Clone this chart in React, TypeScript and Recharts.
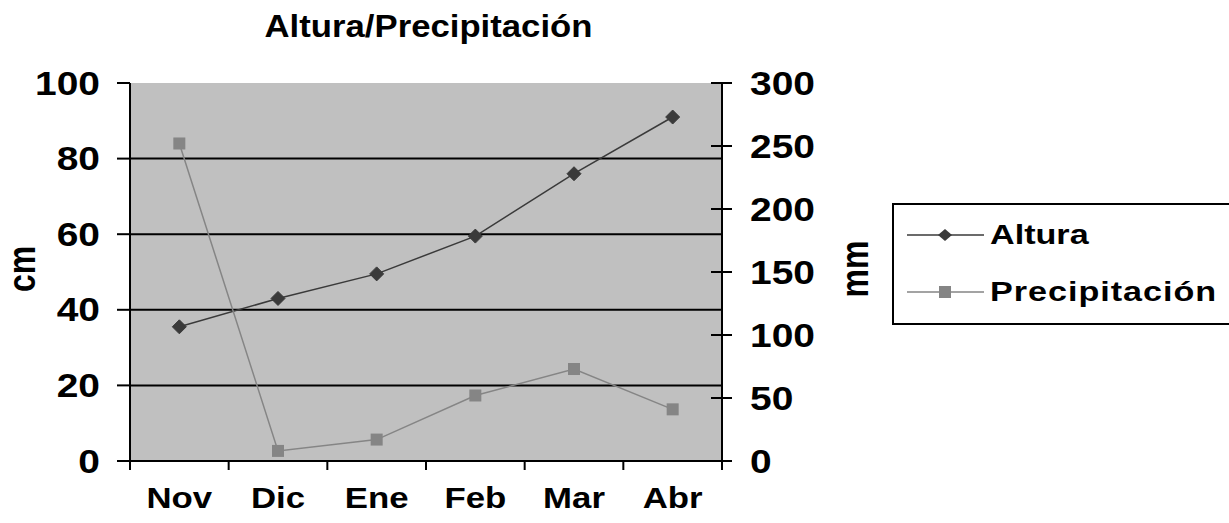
import React from 'react';
import { LineChart, Line, XAxis, YAxis, ReferenceArea, ReferenceLine, Legend } from 'recharts';

const categories = ['Nov', 'Dic', 'Ene', 'Feb', 'Mar', 'Abr'];
const altura = [35.5, 43, 49.5, 59.5, 76, 91];
const precipitacion = [252, 8, 17, 52, 73, 41];
const leftTicks = [0, 20, 40, 60, 80, 100];
const rightTicks = [0, 50, 100, 150, 200, 250, 300];
const gridValues = [20, 40, 60, 80];
const seriesNames = ['Altura', 'Precipitación'];
const seriesColors = ['#3a3a3a', '#858585'];

const data = categories.map((c, i) => ({ cat: c, altura: altura[i], precipitacion: precipitacion[i] }));

const FONT = '"Liberation Sans", Arial, sans-serif';

const LeftTick = (props: any) => {
  const { x, y, payload } = props;
  return (
    <g>
      <line x1={x - 13} x2={x} y1={y} y2={y} stroke="#000" strokeWidth={2} />
      <text transform={`translate(${x - 30},${y}) scale(1.18,1)`} textAnchor="end" dy="0.35em"
        fontFamily={FONT} fontWeight="bold" fontSize={33} fill="#000">{payload.value}</text>
    </g>
  );
};

const RightTick = (props: any) => {
  const { x, y, payload } = props;
  return (
    <g>
      <line x1={x - 11} x2={x + 10} y1={y} y2={y} stroke="#000" strokeWidth={2} />
      <text transform={`translate(${x + 28},${y}) scale(1.18,1)`} textAnchor="start" dy="0.35em"
        fontFamily={FONT} fontWeight="bold" fontSize={33} fill="#000">{payload.value}</text>
    </g>
  );
};

const BottomTick = (props: any) => {
  const { x, y, payload, index, visibleTicksCount } = props;
  const half = payload.offset || 0;
  const last = index === (visibleTicksCount ?? categories.length) - 1;
  return (
    <g>
      <line x1={x - half} x2={x - half} y1={y} y2={y + 9} stroke="#000" strokeWidth={2} />
      {last && <line x1={x + half} x2={x + half} y1={y} y2={y + 9} stroke="#000" strokeWidth={2} />}
      <text transform={`translate(${x},${y + 47}) scale(1.16,1)`} textAnchor="middle"
        fontFamily={FONT} fontWeight="bold" fontSize={30} fill="#000">{payload.value}</text>
    </g>
  );
};

const Diamond = (props: any) => {
  const { cx, cy, index } = props;
  if (cx == null || cy == null) return <g key={index} />;
  return <path key={index} d={`M${cx},${cy - 7}L${cx + 7},${cy}L${cx},${cy + 7}L${cx - 7},${cy}Z`} fill={seriesColors[0]} stroke={seriesColors[0]} />;
};

const Square = (props: any) => {
  const { cx, cy, index } = props;
  if (cx == null || cy == null) return <g key={index} />;
  return <rect key={index} x={cx - 6} y={cy - 6} width={12} height={12} fill={seriesColors[1]} />;
};

const LegendContent = () => (
  <div style={{ width: 360, height: 122, border: '2px solid #000', background: '#fff', boxSizing: 'border-box' }}>
    <svg width={356} height={118}>
      {seriesNames.map((name, i) => {
        const cy = 30 + i * 57;
        const mx = 51;
        return (
          <g key={name}>
            <line x1={13} x2={90} y1={cy} y2={cy} stroke={seriesColors[i]} strokeWidth={1.5} />
            {i === 0 ? (
              <path d={`M${mx},${cy - 6}L${mx + 7},${cy}L${mx},${cy + 6}L${mx - 7},${cy}Z`} fill={seriesColors[0]} />
            ) : (
              <rect x={mx - 6} y={cy - 6} width={12} height={12} fill={seriesColors[1]} />
            )}
            <text transform={`translate(96,${cy}) scale(1.22,1)`} dy="0.33em" fontFamily={FONT}
              fontWeight="bold" fontSize={28} letterSpacing={i === 1 ? 0.8 : 0} fill="#000">{name}</text>
          </g>
        );
      })}
    </svg>
  </div>
);

export default function App() {
  return (
    <div style={{ position: 'fixed', left: 0, top: 0, width: 1229, height: 523, overflow: 'hidden', background: '#fff' }}>
      <LineChart width={1229} height={523} data={data} margin={{ top: 83, right: 387, bottom: 12, left: 30 }}>
        <XAxis dataKey="cat" scale="band" height={50} interval={0} tickLine={false} tickSize={0} tickMargin={0}
          axisLine={{ stroke: '#000', strokeWidth: 2 }} tick={<BottomTick />} />
        <YAxis yAxisId="left" orientation="left" width={100} domain={[0, 100]} ticks={leftTicks} interval={0}
          tickLine={false} tickSize={0} tickMargin={0} axisLine={{ stroke: '#000', strokeWidth: 2 }} tick={<LeftTick />} />
        <YAxis yAxisId="right" orientation="right" width={120} domain={[0, 300]} ticks={rightTicks} interval={0}
          tickLine={false} tickSize={0} tickMargin={0} axisLine={{ stroke: '#000', strokeWidth: 2 }} tick={<RightTick />} />
        <ReferenceArea yAxisId="left" y1={0} y2={100} fill="#c0c0c0" fillOpacity={1} stroke="none" ifOverflow="visible" />
        {gridValues.map((v) => (
          <ReferenceLine key={v} yAxisId="left" y={v} stroke="#000" strokeWidth={2} />
        ))}
        <Legend layout="horizontal" verticalAlign="middle" align="center" content={<LegendContent />}
          wrapperStyle={{ position: 'absolute', left: 892, top: 203, width: 360, height: 122 }} />
        <Line yAxisId="left" type="linear" dataKey="altura" name={seriesNames[0]} stroke={seriesColors[0]} strokeWidth={1.5}
          dot={<Diamond />} activeDot={false} isAnimationActive={false} />
        <Line yAxisId="right" type="linear" dataKey="precipitacion" name={seriesNames[1]} stroke={seriesColors[1]} strokeWidth={1.5}
          dot={<Square />} activeDot={false} isAnimationActive={false} />
      </LineChart>
      <svg width={1229} height={523} style={{ position: 'absolute', left: 0, top: 0, pointerEvents: 'none' }}>
        <text transform="translate(428.5,37) scale(1.12,1)" textAnchor="middle" fontFamily={FONT} fontWeight="bold" fontSize={31} fill="#000">Altura/Precipitación</text>
        <text transform="translate(22,269) rotate(-90) scale(1,1.2)" textAnchor="middle" dy="0.35em" fontFamily={FONT} fontWeight="bold" fontSize={32} fill="#000">cm</text>
        <text transform="translate(855,269) rotate(-90) scale(1,1.2)" textAnchor="middle" dy="0.35em" fontFamily={FONT} fontWeight="bold" fontSize={32} fill="#000">mm</text>
      </svg>
    </div>
  );
}
